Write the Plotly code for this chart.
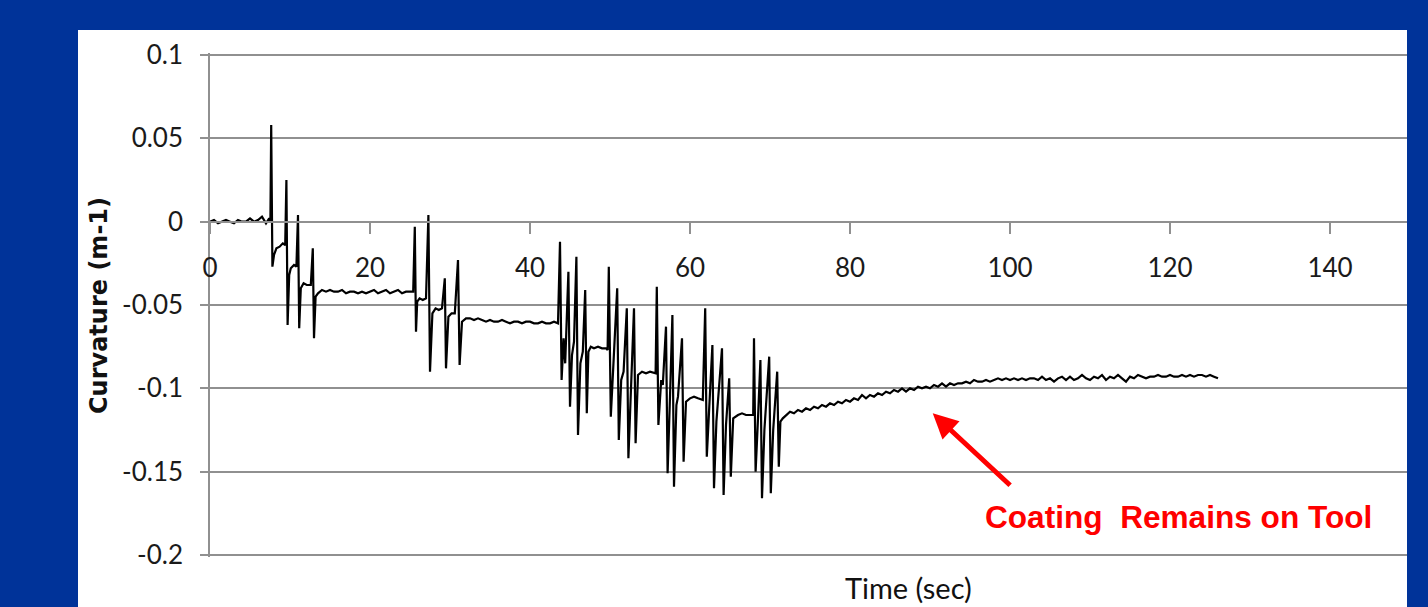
import plotly.graph_objects as go

# ---------------- data ----------------
t_start = [0, 0.5, 1, 1.5, 2, 2.5, 3, 3.5, 4, 4.5, 5, 5.5, 6, 6.5, 7, 7.4]
c_start = [0.000, 0.001, -0.001, 0.000, 0.001, 0.000, -0.001, 0.001, 0.000, 0.000,
           0.002, 0.000, 0.001, 0.003, -0.001, 0.002]

t_step1 = [7.55, 7.65, 7.8, 8.0, 8.3, 8.7, 9.1, 9.4, 9.55, 9.7, 9.9, 10.1, 10.5, 10.8,
           11.0, 11.15, 11.35, 11.7, 12.1, 12.6, 12.85, 13.0, 13.2, 13.5]
c_step1 = [0.000, 0.058, -0.027, -0.020, -0.016, -0.015, -0.013, -0.014, 0.025, -0.062,
           -0.032, -0.028, -0.026, -0.027, 0.004, -0.064, -0.040, -0.037, -0.038, -0.038,
           -0.016, -0.070, -0.045, -0.043]

t_plat1 = [14.0, 14.5, 15.0, 15.5, 16.0, 16.5, 17.0, 17.5, 18.0, 18.5, 19.0, 19.5, 20.0,
           20.5, 21.0, 21.5, 22.0, 22.5, 23.0, 23.5, 24.0, 24.5, 25.0, 25.4]
c_plat1 = [-0.041, -0.042, -0.041, -0.042, -0.042, -0.041, -0.043, -0.042, -0.042, -0.043,
           -0.042, -0.043, -0.042, -0.041, -0.043, -0.042, -0.041, -0.043, -0.042, -0.041,
           -0.043, -0.042, -0.042, -0.042]

t_step2 = [25.6, 25.75, 25.9, 26.2, 26.6, 27.0, 27.3, 27.5, 27.8, 28.2, 28.6, 29.0, 29.35,
           29.5, 29.8, 30.2, 30.6, 31.0, 31.2, 31.5, 32.0]
c_step2 = [-0.003, -0.066, -0.048, -0.046, -0.047, -0.046, 0.004, -0.090, -0.055, -0.052,
           -0.053, -0.052, -0.034, -0.088, -0.057, -0.055, -0.055, -0.023, -0.086, -0.060,
           -0.058]

t_plat2 = [32.5, 33.0, 33.5, 34.0, 34.5, 35.0, 35.5, 36.0, 36.5, 37.0, 37.5, 38.0, 38.5,
           39.0, 39.5, 40.0, 40.5, 41.0, 41.5, 42.0, 42.5, 43.0, 43.5]
c_plat2 = [-0.058, -0.059, -0.058, -0.059, -0.060, -0.059, -0.060, -0.060, -0.059, -0.060,
           -0.061, -0.060, -0.060, -0.061, -0.060, -0.060, -0.061, -0.061, -0.060, -0.061,
           -0.061, -0.060, -0.061]

t_group1 = [43.75, 43.95, 44.2, 44.4, 44.8, 45.0, 45.25, 45.5, 45.8, 46.0, 46.3, 46.6,
            46.9, 47.1, 47.3, 47.6, 48.0, 48.5, 49.0, 49.5]
c_group1 = [-0.012, -0.095, -0.070, -0.085, -0.030, -0.111, -0.080, -0.072, -0.021, -0.128,
            -0.085, -0.078, -0.041, -0.115, -0.078, -0.075, -0.076, -0.075, -0.076, -0.076]

t_group2 = [49.7, 49.85, 50.1, 50.4, 50.9, 51.1, 51.4, 51.7, 52.1, 52.3, 52.6, 53.0, 53.2,
            53.5, 54.0, 54.5, 55.0, 55.5]
c_group2 = [-0.077, -0.027, -0.117, -0.085, -0.040, -0.131, -0.095, -0.090, -0.052, -0.142,
            -0.100, -0.052, -0.133, -0.092, -0.090, -0.091, -0.090, -0.091]

t_group3 = [55.7, 55.85, 56.05, 56.4, 56.6, 57.0, 57.2, 57.5, 57.8, 58.0, 58.3, 58.5, 59.0,
            59.2, 59.5, 60.0, 60.5, 61.0, 61.6]
c_group3 = [-0.091, -0.039, -0.122, -0.095, -0.098, -0.063, -0.151, -0.105, -0.056, -0.159,
            -0.110, -0.105, -0.070, -0.144, -0.108, -0.106, -0.105, -0.106, -0.107]

t_group4 = [61.9, 62.1, 62.4, 62.8, 63.0, 63.3, 64.0, 64.2, 64.5, 64.9, 65.1, 65.4, 66.0,
            66.5, 67.0, 67.6]
c_group4 = [-0.052, -0.141, -0.112, -0.074, -0.160, -0.120, -0.076, -0.164, -0.122, -0.094,
            -0.153, -0.118, -0.116, -0.115, -0.116, -0.116]

t_group5 = [67.9, 68.0, 68.2, 68.5, 68.8, 69.0, 69.3, 69.9, 70.1, 70.4, 70.9, 71.1, 71.3, 71.6]
c_group5 = [-0.116, -0.070, -0.150, -0.118, -0.083, -0.166, -0.125, -0.081, -0.163, -0.125,
            -0.090, -0.147, -0.120, -0.118]

t_recover = [72.0, 72.5, 73.0, 73.5, 74.0, 74.5, 75.0, 75.5, 76.0, 76.5, 77.0, 77.5, 78.0,
             78.5, 79.0, 79.5, 80.0, 80.5, 81.0, 81.5, 82.0, 82.5, 83.0, 83.5, 84.0, 84.5,
             85.0, 85.5, 86.0, 86.5, 87.0, 87.5, 88.0, 88.5, 89.0, 89.5, 90.0, 90.5, 91.0,
             91.5, 92.0, 92.5, 93.0, 93.5, 94.0, 94.5, 95.0, 95.5, 96.0, 96.5, 97.0, 97.5,
             98.0, 98.5, 99.0, 99.5, 100.0, 100.5, 101.0, 101.5, 102.0, 102.5, 103.0, 103.5,
             104.0, 104.5, 105.0, 105.5, 106.0, 106.5, 107.0, 107.5, 108.0, 108.5, 109.0,
             109.5, 110.0, 110.5, 111.0, 111.5, 112.0, 112.5, 113.0, 113.5, 114.0, 114.5,
             115.0, 115.5, 116.0, 116.5, 117.0, 117.5, 118.0, 118.5, 119.0, 119.5, 120.0,
             120.5, 121.0, 121.5, 122.0, 122.5, 123.0, 123.5, 124.0, 124.5, 125.0, 125.5,
             126.0]
c_recover = [-0.116, -0.114, -0.115, -0.113, -0.114, -0.112, -0.113, -0.111, -0.112, -0.110,
             -0.111, -0.109, -0.110, -0.108, -0.109, -0.107, -0.108, -0.106, -0.107, -0.104,
             -0.106, -0.104, -0.105, -0.103, -0.104, -0.102, -0.103, -0.101, -0.102, -0.100,
             -0.102, -0.100, -0.101, -0.099, -0.100, -0.099, -0.100, -0.098, -0.099, -0.097,
             -0.099, -0.097, -0.098, -0.097, -0.097, -0.096, -0.097, -0.095, -0.096, -0.096,
             -0.095, -0.096, -0.095, -0.094, -0.095, -0.094, -0.095, -0.094, -0.095, -0.094,
             -0.095, -0.094, -0.094, -0.095, -0.093, -0.095, -0.094, -0.096, -0.094, -0.093,
             -0.095, -0.093, -0.095, -0.094, -0.092, -0.094, -0.095, -0.093, -0.094, -0.092,
             -0.095, -0.093, -0.094, -0.092, -0.094, -0.096, -0.093, -0.094, -0.092, -0.093,
             -0.094, -0.093, -0.093, -0.092, -0.093, -0.093, -0.092, -0.093, -0.093, -0.092,
             -0.093, -0.092, -0.093, -0.092, -0.092, -0.093, -0.092, -0.093, -0.094]

x_ticks = [0, 20, 40, 60, 80, 100, 120, 140]
y_ticks = [0.1, 0.05, 0, -0.05, -0.1, -0.15, -0.2]
y_tick_text = ["0.1", "0.05", "0", "-0.05", "-0.1", "-0.15", "-0.2"]

time_s = (t_start + t_step1 + t_plat1 + t_step2 + t_plat2 + t_group1 + t_group2
          + t_group3 + t_group4 + t_group5 + t_recover)
curvature = (c_start + c_step1 + c_plat1 + c_step2 + c_plat2 + c_group1 + c_group2
             + c_group3 + c_group4 + c_group5 + c_recover)

# ---------------- figure ----------------
W, H = 1428, 607
L, R, T, B = 210, 21, 53, 50
pw, ph = W - L - R, H - T - B
# range padded by 2 px at each end so the outer gridlines are drawn
Y_MIN, Y_MAX = -0.2012, 0.1012

def px_x(px):
    return (px - L) / pw

def px_y(py):
    return (H - B - py) / ph

BLUE = "#003399"
GRID = "#909090"
NARROW = "Lato, sans-serif"

fig = go.Figure()
fig.add_trace(go.Scatter(x=time_s, y=curvature, mode="lines",
                         line=dict(color="black", width=2.2), showlegend=False,
                         hoverinfo="skip"))

fig.update_layout(
    width=W, height=H, autosize=False,
    margin=dict(l=L, r=R, t=T, b=B, pad=0),
    paper_bgcolor=BLUE, plot_bgcolor="white",
    xaxis=dict(range=[0, pw / 8.0], tickvals=x_ticks, ticktext=[str(v) for v in x_ticks],
               anchor="free", position=(0 - Y_MIN) / (Y_MAX - Y_MIN),
               showline=True, linecolor=GRID, linewidth=1.5,
               ticks="outside", ticklen=12, tickcolor=GRID, tickwidth=1.5,
               showgrid=False, zeroline=False, ticklabelstandoff=11,
               tickfont=dict(family=NARROW, size=26, color="#1a1a1a")),
    yaxis=dict(range=[Y_MIN, Y_MAX], tickvals=y_ticks, ticktext=y_tick_text,
               showline=True, linecolor=GRID, linewidth=1.5,
               ticks="outside", ticklen=8, tickcolor=GRID, tickwidth=1.5,
               showgrid=True, gridcolor=GRID, gridwidth=1.5, zeroline=False,
               ticklabelstandoff=12,
               tickfont=dict(family=NARROW, size=26, color="#1a1a1a")),
    shapes=[dict(type="rect", xref="paper", yref="paper", layer="below",
                 x0=px_x(78), x1=px_x(1407), y0=px_y(30), y1=px_y(H + 5),
                 fillcolor="white", line=dict(width=0))],
    annotations=[
        dict(text="Curvature (m-1)", xref="paper", yref="paper", x=px_x(99), y=px_y(306),
             textangle=-90, showarrow=False, xanchor="center", yanchor="middle",
             font=dict(family="DejaVu Sans", size=24, color="#111111", weight="bold")),
        dict(text="Time (sec)", xref="paper", yref="paper", x=px_x(908), y=px_y(587),
             showarrow=False, xanchor="center", yanchor="middle",
             font=dict(family=NARROW, size=29, color="#111111")),
        dict(text="", x=90.34, y=-0.115, ax=100.2, ay=-0.159, axref="x", ayref="y",
             xref="x", yref="y", showarrow=True, arrowhead=2, arrowsize=1,
             arrowwidth=5, arrowcolor="#ff0000"),
        dict(text="Coating\u00a0 Remains on Tool", x=121.1, y=-0.1772, xref="x", yref="y",
             showarrow=False, xanchor="center", yanchor="middle",
             font=dict(family="Liberation Sans, Arial, sans-serif", size=31.6,
                       color="#ff0000", weight="bold")),
    ],
)

fig.write_html("out.html")
